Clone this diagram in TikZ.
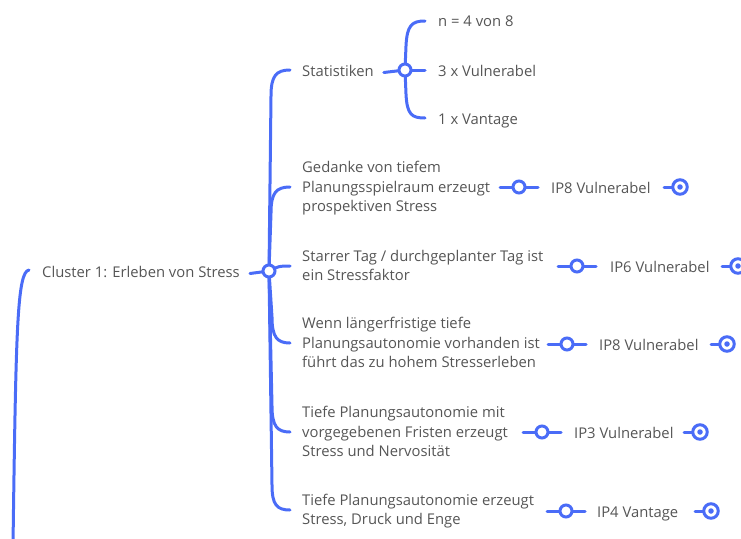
\documentclass[tikz,border=0pt]{standalone}
\usepackage{fontspec}
\setmainfont{Open Sans}
\definecolor{branch}{HTML}{4A6CF7}
\definecolor{label}{HTML}{555555}
\tikzset{
  txt/.style={anchor=west, inner sep=0pt, yshift=-2.5pt, text=label, font=\fontsize{14.8}{19.5}\selectfont, align=left,
    execute at begin node=\strut, execute at end node=\strut},
  link/.style={draw=branch, line width=3pt, line cap=round},
  knot/.style={circle, draw=branch, fill=white, line width=3pt, minimum size=12pt, inner sep=0pt},
  tip/.style={knot, minimum size=14.5pt},
  dot/.style={circle, fill=branch, minimum size=5.5pt, inner sep=0pt},
}
\begin{document}
\begin{tikzpicture}[x=1pt,y=-1pt]
\useasboundingbox (0,0) rectangle (741,538);

% ---- text nodes ----
\node[txt] (cluster) at (42,271) {Cluster 1: Erleben von Stress};
\node[txt] (stat) at (302,70) {Statistiken};
\node[txt] (ged)  at (302,187) {Gedanke von tiefem\\Planungsspielraum erzeugt\\prospektiven Stress};
\node[txt] (sta)  at (302,266) {Starrer Tag / durchgeplanter Tag ist\\ein Stressfaktor};
\node[txt] (wenn) at (302,343) {Wenn längerfristige tiefe\\Planungsautonomie vorhanden ist\\führt das zu hohem Stresserleben};
\node[txt] (tmit) at (302,432) {Tiefe Planungsautonomie mit\\vorgegebenen Fristen erzeugt\\Stress und Nervosität};
\node[txt] (terz) at (302,510) {Tiefe Planungsautonomie erzeugt\\Stress, Druck und Enge};

\node[txt] (n4)  at (438,20)  {n = 4 von 8};
\node[txt] (v3)  at (438,70)  {3 x Vulnerabel};
\node[txt] (va1) at (438,118) {1 x Vantage};

\node[txt] (ip8a) at (551,187) {IP8 Vulnerabel};
\node[txt] (ip6)  at (610,266) {IP6 Vulnerabel};
\node[txt] (ip8b) at (599,344) {IP8 Vulnerabel};
\node[txt] (ip3)  at (574,432) {IP3 Vulnerabel};
\node[txt] (ip4)  at (597,511) {IP4 Vantage};

% ---- junction points ----
\coordinate (rc) at (269,271);
\coordinate (sc) at (405,70);
\coordinate (gc) at (519,187);
\coordinate (tc) at (577,266);
\coordinate (wc) at (567,344);
\coordinate (mc) at (542,432);
\coordinate (ec) at (566,511);
% end markers
\coordinate (ge) at (680,187);
\coordinate (te) at (738,266);
\coordinate (we) at (727,344);
\coordinate (me) at (700,432);
\coordinate (ee) at (711,511);

% incoming branch from the parent topic
\coordinate (inlet) at (13,545);
\coordinate (inend) at (29,270);
\draw[link] (inlet) .. controls (16,330) and (17,272) .. (inend);

% cluster to its junction
\draw[link] ([xshift=10pt]cluster.east) -- (rc);

% brace of the cluster
\draw[link] (rc) -- (271,96) .. controls (271,76) and (276,70) .. (290,70);
\draw[link] (rc) -- (271,213) .. controls (271,193) and (276,187) .. (290,187);
\draw[link] (rc) .. controls (279,266) .. (290,266);
\draw[link] (rc) -- (272,317) .. controls (272,337) and (277,343) .. (290,343);
\draw[link] (rc) -- (272,406) .. controls (272,426) and (277,432) .. (290,432);
\draw[link] (rc) -- (272,485) .. controls (272,505) and (277,510) .. (290,510);

% statistics brace
\draw[link] ([xshift=10pt]stat.east) -- (sc);
\draw[link] (sc) -- (406,46) .. controls (407,25) and (412,21) .. (425,21);
\draw[link] (sc) -- (425,70);
\draw[link] (sc) -- (406,94) .. controls (407,115) and (412,118) .. (425,118);

% leaf connectors
\foreach \c in {gc,tc,wc,mc,ec}
  \draw[link] ([xshift=-19pt]\c) -- ([xshift=19pt]\c);
\foreach \c in {ge,te,we,me,ee}
  \draw[link] ([xshift=-16pt]\c) -- (\c);

% junction circles
\foreach \c in {rc,sc,gc,tc,wc,mc,ec}
  \node[knot] (k-\c) at (\c) {};
\foreach \c in {ge,te,we,me,ee}{
  \node[tip] (t-\c) at (\c) {};
  \node[dot] (d-\c) at (\c) {};
}
\end{tikzpicture}
\end{document}
